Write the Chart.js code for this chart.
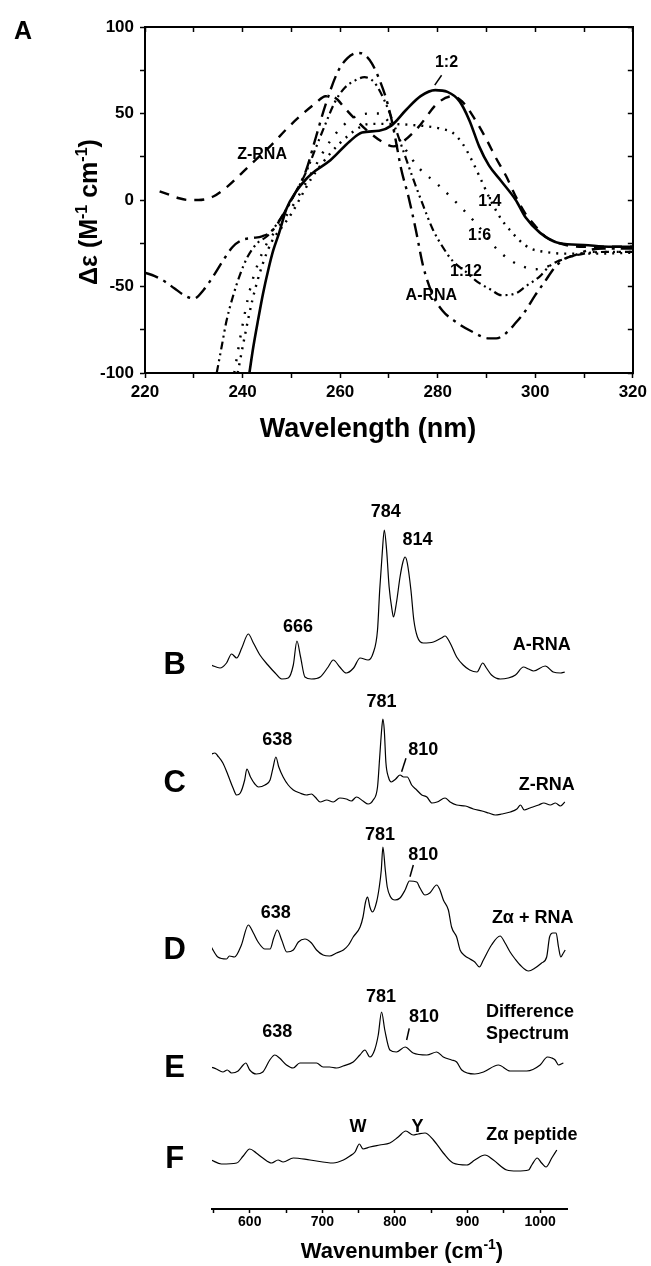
<!DOCTYPE html>
<html>
<head>
<meta charset="utf-8">
<title>CD and Raman spectra</title>
<script src="https://cdn.jsdelivr.net/npm/chart.js@4.4.0/dist/chart.umd.min.js"></script>
<style>
  html, body { margin: 0; padding: 0; background: #fff; }
  #page { position: relative; width: 651px; height: 1266px; overflow: hidden; background: #fff; }
  #cdChart { position: absolute; left: 0; top: 0; }
  #ramanChart { position: absolute; left: 0; top: 470px; }
</style>
</head>
<body>
<div id="page">
  <canvas id="cdChart" width="651" height="470"></canvas>
  <canvas id="ramanChart" width="651" height="796"></canvas>
</div>
<script>
// ---- panel A : CD spectra (wavelength nm, delta epsilon) ----
const zRnaNm = [223, 225, 227, 229, 231, 234, 237, 240, 243, 246, 249, 252, 255, 257, 259, 261, 263, 266, 269, 271, 273, 276, 280, 283, 285, 288, 290, 292, 294, 296, 298, 300, 302, 305, 309, 314, 320];
const zRnaDe = [5, 3, 1, 0, 0, 2, 8, 16, 24, 32, 41, 49, 56, 60, 59, 53, 47, 39, 33, 31, 34, 42, 56, 60, 57, 45, 35, 24, 14, 2, -8, -15, -21, -25, -27, -27, -27];

const aRnaNm = [220, 222, 224, 226, 228, 230, 232, 234, 236, 238, 240, 242, 244, 246, 248, 250, 253, 255, 257, 259.5, 261.5, 263.5, 265, 266.5, 268, 269.5, 270.5, 271.5, 272.5, 274, 275.5, 277, 279, 281, 284, 287, 290.5, 292, 294, 296, 298, 300, 302, 304, 306, 308, 311, 314, 320];
const aRnaDe = [-42, -44, -47, -51, -55, -57, -52, -44, -35, -27, -23, -22, -21, -18, -10, 0, 17, 36, 55, 74, 82, 85, 84, 79, 70, 58, 47, 33, 18, 2, -17, -38, -55, -64, -71, -76, -80, -80, -77, -71, -64, -55, -47, -39, -34, -32, -29, -28, -28];

const r12Nm = [241.4, 242.2, 243.2, 244.2, 245.3, 246.3, 247.5, 249, 251, 253, 255, 258, 262, 264.5, 268, 270.5, 273.5, 276.5, 279.5, 282, 284.5, 286.5, 288.5, 290.5, 293, 296, 298, 301, 305, 310, 315, 320];
const r12De = [-100, -85, -69, -54, -40, -29, -19, -5, 5, 12, 17, 23, 34, 39, 40, 43, 52, 60, 63.5, 62.5, 57, 46, 31, 20, 11, 0, -10, -19, -25, -26, -27, -27];

const r14Nm = [239, 240.5, 242, 244, 246, 248, 250, 252, 254, 256, 258, 260, 262, 264, 266, 270, 274, 278, 281, 283, 285, 287, 289, 291, 293, 295, 297, 299, 302, 306, 313, 320];
const r14De = [-100, -78, -58, -38, -24, -16, -8, 2, 12, 20, 27, 33, 38, 42, 44, 44, 43.5, 42.5, 41, 39, 33, 23, 11, -1, -11, -18, -24, -28, -30, -31, -31, -30.5];

const r16Nm = [238.3, 239.5, 240.5, 241.5, 243, 245, 247, 249, 251, 253, 255, 257, 259, 261, 263, 266, 268, 270, 273, 276, 280, 284, 288, 292, 295, 298, 300, 302, 305, 308, 312, 320];
const r16De = [-100, -80, -65, -52, -38, -25, -17, -9, 0, 10, 20, 30, 38, 44, 48, 50, 50, 45, 31, 19, 9, -2, -14, -28, -35, -39, -40, -39, -35, -32, -30, -30];

const r112Nm = [234.7, 235.7, 236.7, 238, 239.5, 241, 243, 245, 247, 249, 251, 253, 255, 257, 259, 261, 263, 265, 267, 269, 271, 273, 275, 277, 279, 281, 283, 286, 288, 291, 293, 296, 298, 301, 303, 306, 310, 315, 320];
const r112De = [-100, -85, -70, -56, -43, -33, -25, -21, -14, -5, 5, 16, 30, 44, 57, 65, 69, 71, 68, 58, 44, 28, 12, -3, -17, -27, -35, -42, -47, -52, -55, -54, -50, -44, -38, -34, -31, -30, -30];

// ---- panels B-F : Raman spectra (wavenumber cm-1, relative intensity) ----
const bWn = [547, 559, 568, 575, 582, 589, 598, 605, 614, 625, 635, 644, 653, 660, 665, 670, 676, 685, 697, 708, 715, 724, 733, 743, 752, 763, 770, 776, 779, 782.5, 785.3, 788.5, 792, 796, 798, 802, 807, 811, 814, 817, 822, 826, 831, 839, 853, 864, 869, 876, 885, 894, 903, 913, 921, 926, 933, 945, 956, 966, 977, 984, 991, 1007, 1018, 1028, 1034];
const bInt = [15, 12, 17, 26, 22, 32, 46, 37, 25, 15, 7, 1, 2, 15, 39, 23, 3, 1, 3, 13, 20, 13, 7, 12, 22, 20, 27, 50, 90, 127, 150, 130, 93, 70, 63, 77, 103, 118, 123, 117, 90, 60, 43, 37, 38, 42, 44, 37, 23, 15, 10, 8, 17, 12, 5, 1, 2, 5, 13, 11, 9, 14, 8, 7, 8];

const cWn = [547, 552, 556, 563, 570, 577, 582, 587, 593, 596, 601, 607, 612, 621, 628, 632, 636, 640, 646, 653, 660, 669, 678, 685, 690, 697, 706, 715, 724, 733, 740, 747, 756, 763, 770, 776, 779, 782, 783.4, 785.3, 787.6, 791, 795, 801, 807, 812, 817, 823, 830, 837, 844, 851, 858, 869, 876, 885, 897, 908, 920, 929, 938, 947, 959, 968, 973, 978, 986, 998, 1005, 1014, 1021, 1028, 1034];
const cInt = [61, 62, 59, 52, 40, 27, 20, 22, 35, 46, 38, 31, 28, 30, 35, 47, 58, 48, 38, 30, 25, 22, 20, 21, 18, 13, 15, 13, 17, 16, 14, 18, 14, 11, 15, 28, 58, 88, 96, 85, 52, 38, 33, 36, 40, 38, 38, 30, 25, 20, 18, 12, 13, 17, 13, 10, 9, 6, 4, 2, 0, 1, 3, 6, 10, 5, 7, 10, 12, 10, 12, 9, 13];

const dWn = [547, 556, 568, 572, 579, 588.5, 598, 605, 611.5, 621, 628, 633, 638, 644, 651, 660, 667, 676, 685, 692, 701, 710, 719.5, 729, 736, 742.5, 752, 756, 759.5, 762.3, 765.5, 769, 774.7, 778.4, 781.2, 783.4, 786.7, 789.4, 794, 800, 807, 814, 820, 830, 834.5, 841.4, 848, 857.5, 862, 866.7, 873.6, 878, 885, 889.7, 896.6, 903.4, 910, 916.3, 921.8, 933, 944.8, 951.7, 958.6, 965.5, 972.4, 984, 993, 1002, 1009, 1013, 1017.5, 1022, 1025.3, 1028.5, 1032, 1034.5];
const dInt = [24, 14, 12, 15, 14, 26, 46, 38, 29, 22, 22, 33, 41, 31, 19, 21, 29, 32, 28, 21, 16, 15, 18, 21, 26, 34, 44, 54, 69, 74, 64, 59, 69, 84, 101, 124, 101, 84, 74, 71, 73, 81, 90, 89, 83, 76, 78, 86, 81, 71, 61, 44, 34, 21, 15, 12, 9, 4, 11, 26, 35, 28, 19, 12, 6, 0, 3, 8, 14, 34, 38, 38, 24, 14, 18, 21];

const eWn = [547, 554, 563, 569, 575, 584, 591, 594.5, 600, 609, 618, 627.6, 634.5, 641, 650.6, 659.7, 669, 678, 692, 701, 710, 719.5, 728.7, 742.5, 751.7, 758.6, 765.5, 772, 777, 781.6, 786, 793, 802, 814, 825, 844, 857.5, 866.6, 878, 885, 892, 910, 922, 942.5, 958.6, 981.6, 1000, 1010, 1016, 1020.7, 1025.3, 1032];
const eInt = [8, 6, 3, 5, 2, 4, 10, 12, 5, 1, 3, 15, 20, 17, 10, 7, 12, 12, 12, 8, 8, 7, 9, 13, 20, 25, 18, 25, 40, 63, 45, 25, 23, 28, 22, 20, 23, 18, 15, 13, 5, 1, 3, 10, 4, 4, 10, 18, 17, 15, 10, 12];

const fWn = [547, 561, 582, 591, 600, 609, 618, 630, 639, 646, 660, 683, 715, 729, 738, 745, 751, 756, 765.5, 779, 793, 804.5, 815, 825, 832, 841.4, 853, 866.6, 880, 899, 910, 924, 935.6, 954, 968, 984, 988.5, 996, 1002, 1008, 1016, 1023];
const fInt = [11, 7, 8, 15, 22, 18, 13, 8, 11, 9, 13, 11, 8, 11, 15, 19, 27, 22, 24, 26, 28, 34, 40, 36, 37, 38, 31, 18, 8, 6, 11, 16, 11, 1, 0, 1, 6, 13, 8, 4, 13, 21];

// tick marks of the wavenumber axis (labels on every second one)
const ramanTicks = [550, 600, 650, 700, 750, 800, 850, 900, 950, 1000];
const ramanTickLabels = ['', '600', '', '700', '', '800', '', '900', '', '1000'];

const FONT = 'Arial, "Liberation Sans", Helvetica, sans-serif';

function toPoints(xs, ys, offset) {
  return xs.map((x, i) => ({ x: x, y: ys[i] + (offset || 0) }));
}

// draws text that may contain superscript parts, centred on the current origin
function drawRich(ctx, parts, size) {
  const base = 'bold ' + size + 'px ' + FONT;
  const sup = 'bold ' + Math.round(size * 0.62) + 'px ' + FONT;
  let total = 0;
  parts.forEach(p => { ctx.font = p[1] ? sup : base; total += ctx.measureText(p[0]).width; });
  let cx = -total / 2;
  ctx.textAlign = 'left';
  ctx.textBaseline = 'alphabetic';
  parts.forEach(p => {
    ctx.font = p[1] ? sup : base;
    ctx.fillText(p[0], cx, p[1] ? -size * 0.42 : 0);
    cx += ctx.measureText(p[0]).width;
  });
}

const panelText = {
  id: 'panelText',
  afterDraw(chart, args, opts) {
    const ctx = chart.ctx;
    const xs = chart.scales.x;
    const ys = chart.scales.y;
    ctx.save();
    ctx.fillStyle = '#000';
    ctx.strokeStyle = '#000';
    (opts.labels || []).forEach(l => {
      ctx.font = 'bold ' + (l.size || opts.size) + 'px ' + FONT;
      ctx.textAlign = l.align || 'center';
      ctx.textBaseline = 'middle';
      ctx.fillText(l.text, xs.getPixelForValue(l.x), ys.getPixelForValue(l.y));
    });
    (opts.leaders || []).forEach(s => {
      ctx.lineWidth = 1.5;
      ctx.beginPath();
      ctx.moveTo(xs.getPixelForValue(s[0]), ys.getPixelForValue(s[1]));
      ctx.lineTo(xs.getPixelForValue(s[2]), ys.getPixelForValue(s[3]));
      ctx.stroke();
    });
    (opts.titles || []).forEach(t => {
      ctx.save();
      ctx.translate(t.x, t.y);
      if (t.rotate) ctx.rotate(t.rotate);
      drawRich(ctx, t.parts, t.size);
      ctx.restore();
    });
    ctx.restore();
  }
};

function edgeAxis(position, min, max, step) {
  const horizontal = position === 'top';
  return {
    type: 'linear',
    position: position,
    min: min,
    max: max,
    afterFit: s => { if (horizontal) s.height = 0; else s.width = 0; },
    border: { color: '#000', width: 2 },
    grid: { drawOnChartArea: false, tickLength: -5, tickWidth: 1.5, tickColor: '#000' },
    ticks: { display: false, stepSize: step }
  };
}

document.addEventListener('DOMContentLoaded', function () {
  const tickFont = { family: FONT, size: 17, weight: 'bold' };

  const cdDatasets = [
    { data: toPoints(zRnaNm, zRnaDe), borderWidth: 2.4, borderDash: [10, 8] },
    { data: toPoints(aRnaNm, aRnaDe), borderWidth: 2.4, borderDash: [14, 6, 3, 6] },
    { data: toPoints(r12Nm, r12De), borderWidth: 2.6 },
    { data: toPoints(r14Nm, r14De), borderWidth: 2.4, borderDash: [2, 6] },
    { data: toPoints(r16Nm, r16De), borderWidth: 2.4, borderDash: [2, 10] },
    { data: toPoints(r112Nm, r112De), borderWidth: 2.2, borderDash: [8, 4, 2, 4, 2, 4] }
  ];

  new Chart(document.getElementById('cdChart'), {
    type: 'line',
    data: { datasets: cdDatasets },
    options: {
      responsive: false,
      animation: false,
      events: [],
      layout: { padding: { left: 0, top: 27, right: 18, bottom: 0 } },
      elements: {
        point: { radius: 0 },
        line: { borderColor: '#000', fill: false, cubicInterpolationMode: 'monotone' }
      },
      plugins: {
        legend: { display: false },
        tooltip: { enabled: false },
        panelText: {
          size: 16,
          labels: [
            { text: 'A', x: 195, y: 97, size: 25 },
            { text: 'Z-RNA', x: 244, y: 26 },
            { text: '1:2', x: 281.8, y: 79.3 },
            { text: '1:4', x: 290.7, y: -1.2 },
            { text: '1:6', x: 288.6, y: -20.7 },
            { text: '1:12', x: 285.8, y: -41.3 },
            { text: 'A-RNA', x: 278.7, y: -55.4 }
          ],
          leaders: [[280.8, 72.1, 279.4, 66.4]],
          titles: [
            { parts: [['Wavelength (nm)', false]], x: 368, y: 437, size: 27 },
            { parts: [['\u0394\u03b5 (M', false], ['-1', true], [' cm', false], ['-1', true], [')', false]],
              x: 97, y: 212, size: 25, rotate: -Math.PI / 2 }
          ]
        }
      },
      scales: {
        x: {
          type: 'linear', position: 'bottom', min: 220, max: 320,
          afterFit: s => { s.height = 97; },
          border: { color: '#000', width: 2 },
          grid: { drawOnChartArea: false, tickLength: 5, tickWidth: 1.5, tickColor: '#000' },
          ticks: { stepSize: 10, autoSkip: false, maxRotation: 0, padding: 4, color: '#000', font: tickFont,
                   callback: v => (v % 20 === 0 ? v : '') }
        },
        y: {
          type: 'linear', position: 'left', min: -100, max: 100,
          afterFit: s => { s.width = 145; },
          border: { color: '#000', width: 2 },
          grid: { drawOnChartArea: false, tickLength: 5, tickWidth: 1.5, tickColor: '#000' },
          ticks: { stepSize: 25, autoSkip: false, padding: 6, color: '#000', font: tickFont,
                   callback: v => (v % 50 === 0 ? v : '') }
        },
        x2: edgeAxis('top', 220, 320, 10),
        y2: edgeAxis('right', -100, 100, 25)
      }
    },
    plugins: [panelText]
  });

  // each spectrum sits on its own baseline inside one shared y range
  const ramanOffsets = [529, 394, 238, 134, 38];
  const ramanSeries = [[bWn, bInt], [cWn, cInt], [dWn, dInt], [eWn, eInt], [fWn, fInt]];
  const ramanDatasets = ramanSeries.map((s, i) => ({
    data: toPoints(s[0], s[1], ramanOffsets[i]),
    borderWidth: 1.2
  }));

  new Chart(document.getElementById('ramanChart'), {
    type: 'line',
    data: { datasets: ramanDatasets },
    options: {
      responsive: false,
      animation: false,
      events: [],
      layout: { padding: { left: 212, top: 30, right: 84, bottom: 0 } },
      elements: {
        point: { radius: 0 },
        line: { borderColor: '#000', fill: false, cubicInterpolationMode: 'monotone' }
      },
      plugins: {
        legend: { display: false },
        tooltip: { enabled: false },
        panelText: {
          size: 18,
          labels: [
            { text: 'B', x: 496.6, y: 544, size: 31 },
            { text: 'C', x: 496.6, y: 426, size: 31 },
            { text: 'D', x: 496.6, y: 259, size: 31 },
            { text: 'E', x: 496.6, y: 141, size: 31 },
            { text: 'F', x: 496.6, y: 50, size: 31 },
            { text: '784', x: 787.3, y: 697.3 },
            { text: '814', x: 831, y: 669 },
            { text: '666', x: 666.6, y: 582 },
            { text: 'A-RNA', x: 1002.3, y: 564 },
            { text: '781', x: 781.6, y: 507.3 },
            { text: '638', x: 637.9, y: 469 },
            { text: '810', x: 839, y: 459 },
            { text: 'Z-RNA', x: 1009.2, y: 424 },
            { text: '781', x: 779.3, y: 374 },
            { text: '810', x: 839, y: 354 },
            { text: '638', x: 635.9, y: 296 },
            { text: 'Z\u03b1 + RNA', x: 989.7, y: 291 },
            { text: '781', x: 780.7, y: 212.3 },
            { text: '810', x: 840, y: 192.3 },
            { text: '638', x: 637.9, y: 177.3 },
            { text: 'Difference', x: 925.5, y: 196.5, align: 'left' },
            { text: 'Spectrum', x: 925.5, y: 175, align: 'left' },
            { text: 'W', x: 749, y: 81.5 },
            { text: 'Y', x: 831, y: 81.5 },
            { text: 'Z\u03b1 peptide', x: 988.6, y: 74 }
          ],
          leaders: [
            [815.2, 450.7, 809.2, 437.3],
            [825.3, 344, 820.7, 332.3],
            [819.7, 180.7, 816.1, 169]
          ],
          titles: [
            { parts: [['Wavenumber (cm', false], ['-1', true], [')', false]], x: 402, y: 788, size: 22 }
          ]
        }
      },
      scales: {
        x: {
          type: 'linear', position: 'bottom', min: 548, max: 1037,
          afterFit: s => { s.height = 57; },
          afterBuildTicks: s => { s.ticks = ramanTicks.map(v => ({ value: v })); },
          border: { color: '#000', width: 2 },
          grid: { drawOnChartArea: false, tickLength: 4, tickWidth: 1.5, tickColor: '#000' },
          ticks: { autoSkip: false, maxRotation: 0, padding: 1, color: '#000',
                   font: { family: FONT, size: 14, weight: 'bold' },
                   callback: (v, i) => ramanTickLabels[i] }
        },
        y: { type: 'linear', display: false, min: 0, max: 709 }
      }
    },
    plugins: [panelText]
  });
});
</script>
</body>
</html>
